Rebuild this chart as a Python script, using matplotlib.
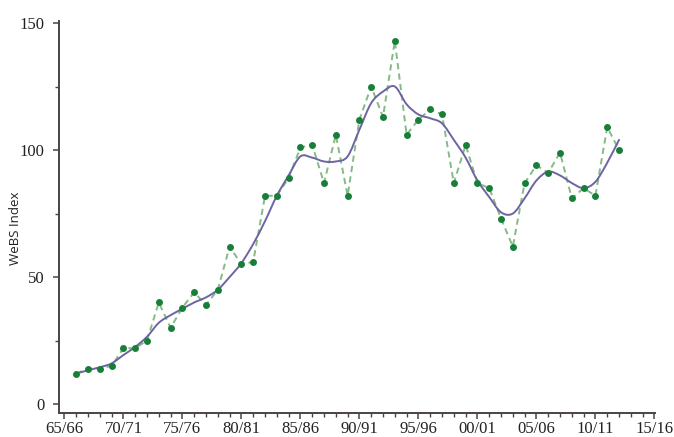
import matplotlib

matplotlib.use("Agg")

import matplotlib.pyplot as plt
import numpy as np
from matplotlib.patches import PathPatch
from matplotlib.path import Path
from matplotlib.ticker import FixedLocator, MultipleLocator

# Winter seasons 65/66 .. 15/16, counted from 0
season_labels = ["65/66", "70/71", "75/76", "80/81", "85/86", "90/91",
                 "95/96", "00/01", "05/06", "10/11", "15/16"]

# Annual index values, 66/67 .. 12/13
index_values = [12, 14, 14, 15, 22, 22, 25, 40, 30, 38,
                44, 39, 45, 62, 55, 56, 82, 82, 89, 101,
                102, 87, 106, 82, 112, 125, 113, 143, 106, 112,
                116, 114, 87, 102, 87, 85, 73, 62, 87, 94,
                91, 99, 81, 85, 82, 109, 100]

# Smoothed trend for the same seasons
trend_values = [12, 13.3, 14.5, 16, 19.3, 22.5, 26.5, 32, 35, 37.5,
                40, 42, 45, 50, 55.5, 63, 72, 82, 90, 97.5,
                97, 95.5, 95.5, 97.5, 108, 118.5, 123, 125, 118, 114,
                112.5, 110.5, 104, 97, 88, 81.5, 75.5, 75, 81, 88,
                91.5, 90, 87, 85, 87.5, 95, 104]

FIRST_SEASON = 1

DOT = "#177f38"
DASH = "#84bb84"
TREND = "#6d64a3"
AXIS = "#4b4343"


def _curve_path(x, y) -> Path:
    # Catmull-Rom through every trend value, as cubic Bezier segments
    pts = np.column_stack([x, y]).astype(float)
    padded = np.vstack([pts[0], pts, pts[-1]])
    verts = [pts[0]]
    codes = [Path.MOVETO]
    for i in range(1, len(padded) - 2):
        p0, p1, p2, p3 = padded[i - 1], padded[i], padded[i + 1], padded[i + 2]
        verts += [p1 + (p2 - p0) / 6, p2 - (p3 - p1) / 6, p2]
        codes += [Path.CURVE4] * 3
    return Path(verts, codes)


def main() -> None:
    seasons = np.arange(FIRST_SEASON, FIRST_SEASON + len(index_values))

    fig = plt.figure(figsize=(6.74, 4.37), dpi=100)
    ax = fig.add_axes([0.0868, 0.0556, 0.8852, 0.8964])

    ax.plot(seasons, index_values, linestyle=(0, (3.2, 2.2)), color=DASH,
            linewidth=1.4, zorder=2)
    ax.add_patch(PathPatch(_curve_path(seasons, trend_values), facecolor="none",
                           edgecolor=TREND, linewidth=1.4, zorder=3,
                           capstyle="round"))
    ax.plot(seasons, index_values, linestyle="none", marker="o",
            markersize=5, color=DOT, markeredgewidth=0, zorder=4)

    ax.set_xlim(-0.5, 50.06)
    ax.set_ylim(-3.4, 150.8)

    ax.xaxis.set_major_locator(FixedLocator(np.arange(0, 51, 5)))
    ax.xaxis.set_minor_locator(MultipleLocator(1))
    ax.set_xticklabels(season_labels)
    ax.yaxis.set_major_locator(FixedLocator([0, 50, 100, 150]))
    ax.yaxis.set_minor_locator(FixedLocator([25, 75, 125]))

    for side in ("top", "right"):
        ax.spines[side].set_visible(False)
    for side in ("left", "bottom"):
        ax.spines[side].set_color(AXIS)
        ax.spines[side].set_linewidth(1.4)

    ax.tick_params(axis="both", which="major", direction="out", length=4,
                   width=1.1, color=AXIS, labelcolor="#222222")
    ax.tick_params(axis="both", which="minor", direction="out", length=3,
                   width=1.0, color=AXIS)
    ax.tick_params(axis="x", which="major", pad=2)
    ax.tick_params(axis="y", which="major", pad=6)
    for lbl in ax.get_xticklabels() + ax.get_yticklabels():
        lbl.set_fontfamily(["Liberation Serif", "DejaVu Serif"])
        lbl.set_fontsize(12)

    ax.set_ylabel("WeBS Index", fontsize=9.5,
                  fontfamily=["Open Sans", "DejaVu Sans"], color="#222222")
    ax.yaxis.set_label_coords(-0.062, 0.47)

    fig.savefig("out.png", dpi=100)
    plt.close(fig)


if __name__ == "__main__":
    main()
